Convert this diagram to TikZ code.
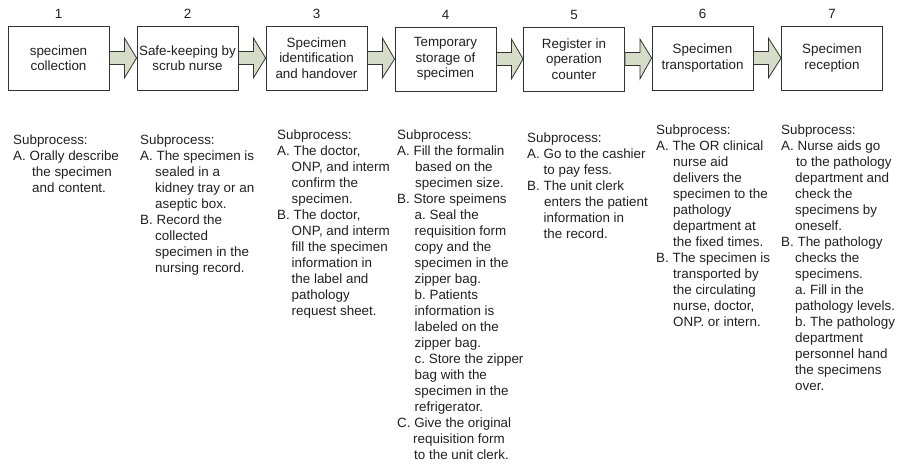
\documentclass[tikz,border=0pt]{standalone}
\usepackage{fontspec}
\setmainfont{Liberation Sans}
\usetikzlibrary{calc}
\definecolor{arrfill}{HTML}{D5DDC8}
\definecolor{ink}{HTML}{231F20}
\definecolor{edge}{HTML}{333333}
\newcommand\hind[1]{\hspace*{#1pt}}
\frenchspacing
\begin{document}
\begin{tikzpicture}[x=1pt,y=-1pt,
  every node/.style={font=\fontsize{13.4}{16}\selectfont\frenchspacing, text=ink},
  stage/.style={draw=edge, line width=0.8pt, minimum width=101pt, minimum height=64pt, inner sep=1pt, align=center, font=\fontsize{13.4}{15.5}\selectfont},
  num/.style={inner sep=0pt, anchor=south},
  sub/.style={anchor=north west, inner sep=0pt, align=left},
  flow/.style={draw=edge, line width=0.8pt, fill=arrfill, line join=miter}]
\useasboundingbox (0,0) rectangle (899,463);

\node[stage] (b1) at (58.5,58) {specimen\\collection};
\node[stage] (b2) at (187.5,58) {Safe-keeping by\\scrub nurse};
\node[stage] (b3) at (316.5,58) {Specimen\\identification\\and handover};
\node[stage] (b4) at (445.5,59) {Temporary\\storage of\\specimen};
\node[stage] (b5) at (574,59) {Register in\\operation\\counter};
\node[stage] (b6) at (702.5,58) {Specimen\\transportation};
\node[stage] (b7) at (832,58) {Specimen\\reception};

\foreach \k in {1,...,7}{
  \node[num] (n\k) at ([yshift=7pt]b\k.north) {\k};
}

\foreach \a/\b in {b1/b2,b2/b3,b3/b4,b4/b5,b5/b6,b6/b7}{
  \draw[flow] ([yshift=6.5pt]\a.east) -- ++(15pt,0pt) -- ++(0pt,13.5pt) -- (\b.west)
    -- ($(\a.east)+(15pt,-20pt)$) -- ++(0pt,13.5pt) -- ([yshift=-6.5pt]\a.east) -- cycle;
}

\node[sub] (s1) at (13,135) {Subprocess:\\A. Orally describe\\\hind{19}the specimen\\\hind{19}and content.};

\node[sub] (s2) at (140,135) {Subprocess:\\A. The specimen is\\\hind{15}sealed in a\\\hind{15}kidney tray or an\\\hind{15}aseptic box.\\B. Record the\\\hind{15}collected\\\hind{15}specimen in the\\\hind{15}nursing record.};

\node[sub] (s3) at (277,130) {Subprocess:\\A. The doctor,\\\hind{14.5}ONP, and interm\\\hind{14.5}confirm the\\\hind{14.5}specimen.\\B. The doctor,\\\hind{14.5}ONP, and interm\\\hind{14.5}fill the specimen\\\hind{14.5}information in\\\hind{14.5}the label and\\\hind{14.5}pathology\\\hind{14.5}request sheet.};

\node[sub] (s4) at (397,130) {Subprocess:\\A. Fill the formalin\\\hind{18}based on the\\\hind{18}specimen size.\\B. Store speimens\\\hind{17.5}a. Seal the\\\hind{17.5}requisition form\\\hind{17.5}copy and the\\\hind{17.5}specimen in the\\\hind{17.5}zipper bag.\\\hind{17.5}b. Patients\\\hind{17.5}information is\\\hind{17.5}labeled on the\\\hind{17.5}zipper bag.\\\hind{17.5}c. Store the zipper\\\hind{17.5}bag with the\\\hind{17.5}specimen in the\\\hind{17.5}refrigerator.\\C. Give the original\\\hind{16}requisition form\\\hind{17}to the unit clerk.};

\node[sub] (s5) at (527,133) {Subprocess:\\A. Go to the cashier\\\hind{16.5}to pay fess.\\B. The unit clerk\\\hind{17}enters the patient\\\hind{16.5}information in\\\hind{16.5}the record.};

\node[sub] (s6) at (656,125) {Subprocess:\\A. The OR clinical\\\hind{17}nurse aid\\\hind{17}delivers the\\\hind{17}specimen to the\\\hind{17}pathology\\\hind{17}department at\\\hind{17}the fixed times.\\B. The specimen is\\\hind{17}transported by\\\hind{17}the circulating\\\hind{17}nurse, doctor,\\\hind{17}ONP. or intern.};

\node[sub] (s7) at (781,125) {Subprocess:\\A. Nurse aids go\\\hind{15}to the pathology\\\hind{14}department and\\\hind{14}check the\\\hind{14}specimens by\\\hind{14}oneself.\\B. The pathology\\\hind{14}checks the\\\hind{14}specimens.\\\hind{14}a. Fill in the\\\hind{14}pathology levels.\\\hind{14}b. The pathology\\\hind{14}department\\\hind{14}personnel hand\\\hind{14}the specimens\\\hind{14}over.};
\end{tikzpicture}
\end{document}
